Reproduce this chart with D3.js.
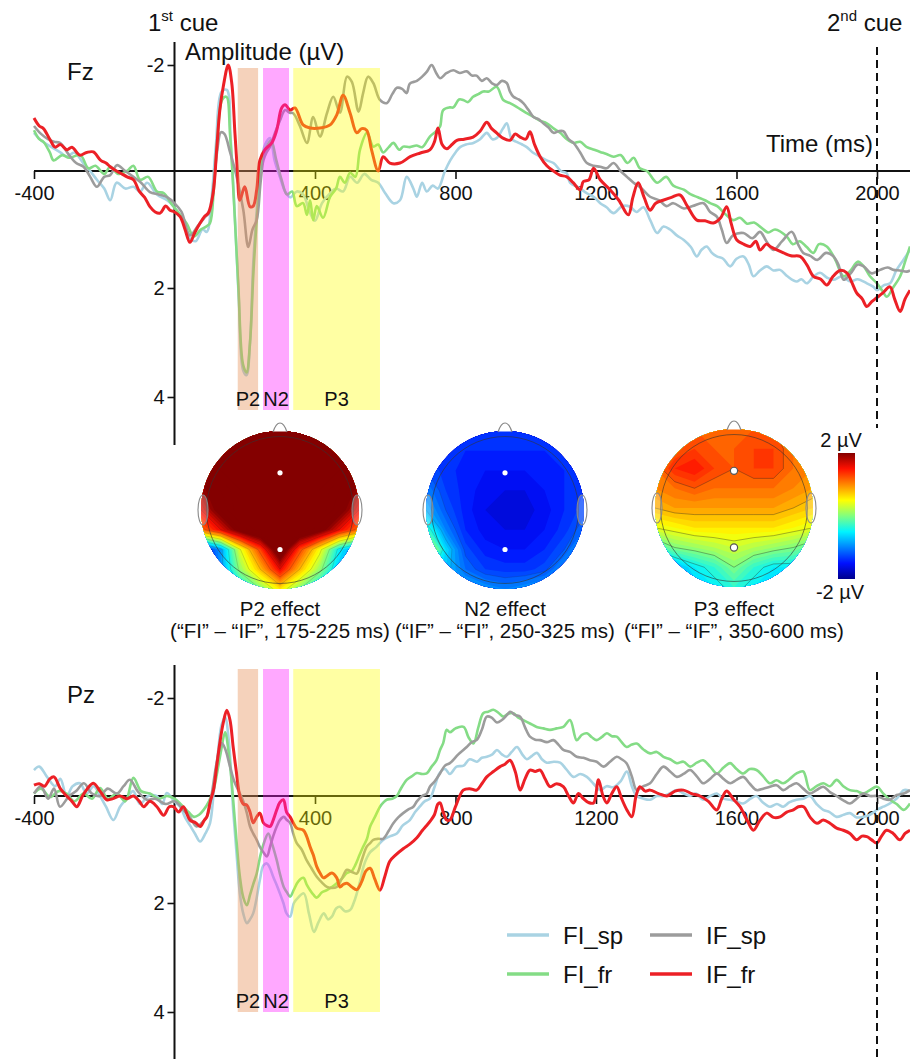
<!DOCTYPE html>
<html>
<head>
<meta charset="utf-8">
<script src="https://cdn.jsdelivr.net/npm/d3@7"></script>
<style>
  body { margin: 0; background: #fff; }
  svg { display: block; }
  text { font-family: 'Liberation Sans', Arial, Helvetica, sans-serif; fill: #111; }
</style>
</head>
<body>
<div id="chart"></div>
<script>
// ---- data: [time (ms), amplitude (µV)] ----
const fzFIsp = [[-400,-0.72],[-375,-0.55],[-350,-0.45],[-325,-0.35],[-306,-0.27],[-285,-0.35],[-260,-0.15],[-240,0],[-221,0.15],[-200,0.3],[-183,0.5],[-165,0.2],[-140,0.3],[-117,0.27],[-98,0.35],[-78,0.2],[-50,0.4],[-21,0.5],[-3,0.6],[20,0.8],[44,1.15],[60,1.2],[80,1],[92,1.04],[105,0.5],[118,-0.5],[134,-1.5],[149,-1.53],[160,-0.6],[172,0.8],[183,2.2],[195,3.5],[205,3.6],[215,3],[224,1.6],[235,0.6],[245,-0.1],[258,-0.5],[272,-0.62],[285,-0.2],[300,0.1],[315,0.35],[330,0.45],[348,0.35],[366,0.4],[385,0.7],[400,0.85],[420,0.55],[440,0.4],[460,0.3],[480,0.35],[500,0.1],[520,0.2],[540,0.05],[560,0.15],[580,0.2],[600,0.38],[623,0.55],[642,0.5],[661,0.1],[680,0.3],[690,0.44],[705,0.2],[718,0.35],[735,0.25],[750,0.3],[770,0],[785,-0.2],[800,-0.35],[813,-0.45],[830,-0.5],[851,-0.53],[870,-0.6],[889,-0.72],[905,-0.6],[917,-0.62],[935,-0.8],[946,-0.9],[960,-0.6],[974,-0.55],[990,-0.5],[1003,-0.45],[1020,-0.35],[1041,-0.27],[1060,-0.2],[1079,-0.15],[1100,0],[1117,0.04],[1126,0.2],[1150,0.28],[1174,0.38],[1195,0.45],[1212,0.55],[1230,0.62],[1250,0.72],[1275,0.6],[1297,0.61],[1315,0.7],[1335,0.62],[1355,0.85],[1374,1.06],[1392,0.95],[1411,1],[1430,1.1],[1450,1.18],[1470,1.3],[1487,1.46],[1500,1.35],[1515,1.29],[1530,1.4],[1544,1.46],[1562,1.5],[1582,1.63],[1600,1.5],[1620,1.46],[1635,1.6],[1648,1.8],[1667,1.7],[1686,1.63],[1705,1.7],[1724,1.69],[1745,1.8],[1771,1.89],[1785,1.85],[1800,1.92],[1820,1.8],[1838,1.74],[1857,1.82],[1876,1.86],[1900,1.8],[1924,1.89],[1945,1.85],[1971,1.92],[1990,1.98],[2000,2.04],[2020,1.95],[2037,1.92],[2055,1.7],[2075,1.52],[2094,1.35]];
const fzFIfr = [[-400,-0.77],[-385,-0.6],[-373,-0.55],[-355,-0.35],[-344,-0.2],[-320,-0.3],[-300,-0.25],[-268,-0.3],[-245,-0.05],[-225,-0.1],[-200,0.05],[-183,-0.08],[-160,0.05],[-135,0],[-117,-0.1],[-98,0.15],[-75,0.1],[-50,0.35],[-30,0.38],[-10,0.55],[16,0.75],[35,0.9],[55,1.12],[75,1],[90,0.95],[101,0.89],[112,0.3],[122,-0.6],[136,-1.35],[148,-1.4],[158,-0.7],[170,0.6],[182,2],[195,3.4],[205,3.55],[215,3],[225,1.7],[237,0.6],[248,-0.1],[262,-0.45],[275,-0.58],[290,-0.2],[305,0.15],[320,0.4],[335,0.35],[348,0.6],[366,0.55],[377,0.75],[386,0.5],[395,0.84],[405,0.6],[423,0.8],[443,0.44],[460,0.3],[471,0.1],[485,0.2],[500,0.03],[515,0.1],[528,-0.4],[548,-0.72],[566,-0.46],[580,-0.5],[594,-0.35],[610,-0.45],[623,-0.53],[640,-0.4],[651,-0.46],[670,-0.45],[689,-0.48],[705,-0.45],[727,-0.65],[745,-0.75],[756,-0.84],[765,-1.15],[784,-1.2],[794,-1.2],[810,-1.35],[822,-1.34],[836,-1.3],[850,-1.4],[865,-1.45],[879,-1.5],[895,-1.5],[917,-1.59],[936,-1.34],[955,-1.28],[974,-1.21],[1000,-1.1],[1022,-1.02],[1040,-0.95],[1060,-0.9],[1080,-0.8],[1098,-0.72],[1117,-0.6],[1136,-0.53],[1155,-0.55],[1174,-0.45],[1195,-0.4],[1212,-0.36],[1230,-0.32],[1250,-0.27],[1270,-0.3],[1290,-0.15],[1307,-0.25],[1325,-0.05],[1345,0],[1374,0.2],[1400,0.1],[1420,0.25],[1450,0.32],[1470,0.4],[1490,0.45],[1510,0.5],[1525,0.55],[1545,0.6],[1565,0.72],[1591,0.84],[1610,0.8],[1630,0.9],[1650,0.88],[1667,0.95],[1690,1.05],[1710,1],[1743,1.12],[1760,1.25],[1780,1.2],[1800,1.3],[1819,1.4],[1835,1.25],[1857,1.29],[1880,1.5],[1905,1.8],[1925,1.7],[1945,1.55],[1962,1.63],[1980,1.8],[2000,1.92],[2015,2.05],[2028,2.16],[2045,2],[2066,1.8],[2080,1.55],[2094,1.29]];
const fzIFsp = [[-400,-0.85],[-380,-0.7],[-360,-0.6],[-343,-0.55],[-326,-0.53],[-300,-0.3],[-280,-0.15],[-259,-0.08],[-240,0.1],[-221,0.27],[-200,0.1],[-183,0.07],[-164,-0.11],[-140,0],[-117,0.1],[-95,0.2],[-70,0.36],[-45,0.4],[-20,0.45],[0,0.55],[20,0.7],[44,1.1],[65,0.95],[85,0.8],[100,0.7],[112,0.2],[122,-0.4],[132,-0.73],[142,-0.7],[158,-0.36],[177,0.1],[196,0.67],[210,1.3],[222,1],[234,0.84],[245,0.2],[253,-0.2],[262,-0.35],[272,-0.46],[285,-0.7],[300,-0.95],[315,-1.15],[328,-1.1],[338,-1.09],[357,-0.85],[377,-0.53],[395,-1.02],[414,-0.65],[434,-1.09],[452,-1.4],[471,-1.1],[491,-1.78],[505,-1.68],[524,-1.12],[537,-1.47],[551,-1.78],[566,-1.66],[585,-1.34],[604,-1.28],[620,-1.45],[633,-1.57],[648,-1.55],[661,-1.47],[670,-1.65],[690,-1.7],[705,-1.78],[718,-1.87],[732,-2],[745,-1.85],[756,-1.75],[775,-1.85],[794,-1.9],[812,-1.85],[832,-1.88],[847,-1.8],[860,-1.8],[875,-1.7],[889,-1.75],[905,-1.65],[917,-1.62],[932,-1.7],[946,-1.66],[955,-1.5],[965,-1.4],[980,-1.35],[993,-1.28],[1008,-1.15],[1022,-1.02],[1036,-0.98],[1050,-0.9],[1065,-0.82],[1079,-0.72],[1093,-0.75],[1107,-0.75],[1122,-0.6],[1136,-0.53],[1155,-0.35],[1174,-0.15],[1193,-0.1],[1212,-0.08],[1230,-0.05],[1250,-0.15],[1270,0],[1288,0.1],[1307,0.2],[1330,0.3],[1354,0.44],[1380,0.5],[1400,0.6],[1420,0.55],[1450,0.64],[1475,0.6],[1506,0.55],[1525,0.7],[1544,0.78],[1558,1],[1572,1.23],[1590,1.1],[1620,1.06],[1645,1.15],[1667,1.04],[1685,1.2],[1705,1.35],[1730,1.2],[1757,1.04],[1775,1.25],[1790,1.4],[1810,1.45],[1830,1.52],[1855,1.4],[1876,1.46],[1890,1.6],[1905,1.86],[1925,1.75],[1945,1.6],[1962,1.63],[1985,1.75],[2009,1.69],[2030,1.65],[2047,1.69],[2065,1.7],[2085,1.72],[2094,1.7]];
const fzIFfr = [[-400,-1],[-385,-0.85],[-373,-0.8],[-355,-0.6],[-340,-0.45],[-325,-0.5],[-306,-0.4],[-292,-0.45],[-270,-0.3],[-250,-0.35],[-231,-0.36],[-210,-0.2],[-195,-0.15],[-183,-0.08],[-165,0],[-150,0.05],[-135,0.1],[-117,0.15],[-100,0.35],[-85,0.45],[-70,0.61],[-55,0.7],[-41,0.72],[-25,0.6],[-13,0.67],[0,0.7],[16,0.78],[30,1],[44,1.22],[58,1.05],[73,0.89],[85,0.78],[96,0.72],[110,0.38],[120,-0.4],[129,-1.15],[139,-1.6],[153,-2],[163,-1.66],[172,-0.72],[179,0],[186,0.5],[200,0.27],[215,0.61],[224,0.6],[234,0.32],[243,-0.2],[257,-0.4],[277,-0.53],[291,-0.77],[305,-1.19],[315,-1.25],[329,-1.15],[343,-1.19],[366,-0.87],[386,-0.81],[414,-0.81],[443,-0.87],[462,-1.06],[480,-1.43],[500,-1.09],[519,-0.72],[533,-0.8],[547,-0.77],[561,-0.4],[580,0],[594,-0.27],[613,-0.15],[642,-0.15],[671,-0.27],[700,-0.34],[727,-0.4],[740,-0.55],[750,-0.81],[762,-0.5],[775,-0.42],[790,-0.5],[804,-0.58],[825,-0.6],[850,-0.64],[870,-0.75],[889,-0.92],[903,-0.8],[917,-0.72],[935,-0.62],[955,-0.58],[970,-0.7],[984,-0.64],[1000,-0.6],[1012,-0.74],[1025,-0.5],[1041,-0.27],[1060,-0.1],[1079,0],[1097,0.07],[1117,0.1],[1135,0.2],[1155,0.32],[1164,0.18],[1180,0.15],[1193,-0.05],[1212,0.15],[1240,0.32],[1265,0.5],[1292,0.75],[1305,0.45],[1320,0.2],[1337,0.45],[1354,0.67],[1370,0.55],[1391,0.5],[1415,0.45],[1439,0.41],[1460,0.6],[1487,0.84],[1510,0.85],[1534,0.89],[1555,0.8],[1572,0.61],[1585,0.9],[1601,1.18],[1620,1.25],[1639,1.29],[1655,1.2],[1667,1.35],[1685,1.25],[1696,1.29],[1715,1.35],[1734,1.4],[1755,1.45],[1781,1.46],[1800,1.6],[1819,1.8],[1840,1.85],[1857,1.95],[1875,1.8],[1895,1.7],[1914,1.74],[1928,1.9],[1942,2.09],[1958,2.2],[1971,2.34],[1985,2.25],[1999,2.18],[2015,2.1],[2037,1.98],[2050,2.2],[2066,2.43],[2080,2.2],[2094,2.04]];

const pzFIsp = [[-400,-0.53],[-385,-0.6],[-363,-0.39],[-340,-0.2],[-325,-0.35],[-307,0],[-290,-0.2],[-269,-0.26],[-250,-0.05],[-230,-0.2],[-212,0],[-195,0.2],[-174,0.45],[-155,0.2],[-136,0.05],[-118,-0.1],[-98,0.15],[-75,0],[-51,0],[-35,0.15],[-22,-0.06],[0,0.1],[16,0.2],[30,0.4],[44,0.55],[58,0.7],[73,0.85],[88,0.7],[101,0.51],[112,-0.1],[124,-0.9],[134,-1.45],[144,-1.6],[155,-1.1],[167,0.26],[177,1.1],[186,1.82],[196,2.2],[206,2.37],[215,2.3],[224,2.19],[234,1.9],[243,1.57],[253,1.3],[263,1.26],[272,1.35],[281,1.51],[290,1.65],[300,1.82],[310,2],[319,2.19],[329,2.25],[340,2],[352,1.9],[368,1.82],[383,2.2],[397,2.53],[410,2.35],[425,2.19],[437,2.3],[448,2.25],[460,2.1],[471,2.07],[485,2.15],[500,2.13],[510,2],[519,1.82],[530,1.55],[538,1.32],[548,1.15],[557,1.05],[575,0.95],[594,0.82],[615,0.75],[633,0.7],[650,0.55],[670,0.45],[685,0.3],[698,0.2],[712,0.1],[727,0.05],[741,-0.2],[755,-0.47],[770,-0.55],[784,-0.45],[803,-0.6],[823,-0.62],[840,-0.75],[861,-0.7],[875,-0.78],[889,-0.8],[905,-0.85],[918,-0.94],[932,-0.85],[946,-0.8],[960,-0.9],[975,-1],[990,-0.85],[1003,-0.75],[1018,-0.82],[1032,-0.88],[1046,-0.75],[1060,-0.68],[1080,-0.7],[1098,-0.68],[1115,-0.55],[1136,-0.39],[1155,-0.45],[1174,-0.39],[1193,-0.25],[1212,-0.12],[1230,-0.2],[1250,-0.18],[1270,-0.3],[1288,-0.5],[1302,-0.2],[1316,0],[1335,0.05],[1354,0.07],[1373,0],[1392,0],[1410,-0.05],[1430,-0.12],[1450,-0.05],[1468,0],[1485,-0.05],[1505,0.07],[1525,0],[1544,-0.05],[1562,0.05],[1582,0.07],[1600,0.1],[1619,0.14],[1640,0.05],[1657,0],[1675,0.12],[1695,0.2],[1715,0.15],[1733,0.2],[1750,0.12],[1771,0.07],[1790,0.05],[1809,0],[1828,0.15],[1847,0.26],[1865,0.3],[1885,0.39],[1905,0.35],[1923,0.32],[1942,0.4],[1961,0.39],[1980,0.35],[2000,0.26],[2018,0.2],[2037,0.14],[2056,0.05],[2076,-0.12],[2094,-0.1]];
const pzFIfr = [[-400,-0.05],[-380,-0.15],[-354,0.02],[-330,-0.1],[-307,-0.05],[-285,0.1],[-259,-0.05],[-235,0.05],[-212,-0.16],[-190,0.05],[-164,-0.05],[-140,0.1],[-117,-0.37],[-95,-0.1],[-70,-0.05],[-45,0.05],[-21,0],[0,0.05],[25,0.2],[40,0.3],[55,0.39],[70,0.35],[83,0.26],[98,0.1],[111,-0.12],[122,-0.5],[132,-0.9],[144,-1.3],[154,-0.9],[165,-0.1],[176,0.8],[186,1.5],[196,1.9],[206,2.04],[215,1.85],[224,1.65],[234,1.45],[245,1.1],[256,0.85],[267,0.7],[278,0.9],[291,1.2],[300,1.45],[311,1.7],[320,1.8],[329,1.88],[340,1.75],[352,1.6],[367,1.53],[376,1.65],[386,1.76],[396,1.85],[405,1.9],[420,1.8],[434,1.76],[448,1.7],[462,1.63],[476,1.55],[491,1.44],[505,1.4],[514,1.3],[527,1.1],[537,0.95],[548,0.8],[557,0.57],[570,0.4],[585,0.2],[595,0.12],[604,0.07],[620,0.05],[633,0],[642,-0.12],[661,-0.33],[675,-0.4],[690,-0.47],[705,-0.45],[718,-0.46],[732,-0.6],[746,-0.73],[756,-0.94],[765,-1.08],[775,-1.35],[784,-1.3],[800,-1.38],[823,-1.41],[837,-1.2],[851,-1.07],[865,-1.4],[879,-1.69],[893,-1.72],[908,-1.76],[922,-1.7],[936,-1.62],[950,-1.68],[965,-1.69],[979,-1.6],[993,-1.55],[1012,-1.48],[1031,-1.41],[1050,-1.38],[1069,-1.35],[1088,-1.38],[1107,-1.41],[1126,-1.55],[1145,-1.14],[1160,-1.25],[1174,-1.28],[1188,-1.2],[1202,-1.14],[1216,-1.2],[1231,-1.28],[1245,-1.22],[1259,-1.21],[1273,-1.1],[1287,-1],[1302,-1.05],[1316,-1.07],[1335,-0.95],[1354,-0.87],[1373,-0.9],[1392,-0.8],[1411,-0.75],[1430,-0.67],[1449,-0.7],[1468,-0.6],[1487,-0.68],[1505,-0.73],[1525,-0.6],[1544,-0.46],[1563,-0.58],[1582,-0.67],[1600,-0.55],[1619,-0.46],[1638,-0.55],[1657,-0.53],[1676,-0.4],[1695,-0.26],[1714,-0.32],[1733,-0.26],[1752,-0.35],[1771,-0.46],[1790,-0.5],[1809,-0.12],[1828,-0.2],[1847,-0.26],[1866,-0.2],[1885,-0.33],[1904,-0.2],[1923,-0.12],[1942,-0.1],[1961,-0.05],[1980,-0.12],[2000,-0.19],[2018,-0.05],[2037,0.07],[2056,0.15],[2076,0.26],[2094,0.14]];
const pzIFsp = [[-400,-0.05],[-380,-0.2],[-360,0.05],[-343,-0.15],[-326,0.2],[-300,0],[-280,-0.1],[-258,-0.26],[-235,-0.05],[-212,0],[-190,-0.15],[-164,-0.05],[-145,-0.2],[-127,-0.33],[-105,-0.1],[-79,0.07],[-55,0.05],[-25,0.15],[0,0.1],[25,0.26],[44,0.4],[63,0.57],[78,0.5],[92,0.39],[105,0],[118,-0.6],[128,-0.95],[135,-1.08],[145,-0.95],[158,-0.6],[170,-0.3],[186,-0.05],[196,0.1],[206,0.32],[215,0.57],[224,0.7],[234,0.82],[243,0.95],[253,1.05],[263,1.13],[272,0.95],[281,0.75],[291,0.57],[300,0.45],[311,0.39],[320,0.45],[329,0.5],[338,0.7],[348,0.88],[362,1],[376,1.2],[390,1.35],[405,1.51],[420,1.62],[434,1.7],[448,1.72],[462,1.7],[476,1.55],[491,1.38],[505,1.42],[519,1.45],[533,1.2],[547,0.95],[557,0.88],[566,0.82],[580,0.8],[594,0.8],[610,0.65],[623,0.51],[637,0.4],[651,0.32],[666,0.25],[680,0.2],[690,0.1],[705,0],[718,-0.05],[727,-0.19],[741,-0.3],[756,-0.46],[770,-0.62],[784,-0.67],[808,-0.85],[832,-1],[846,-1.1],[860,-1.14],[875,-1.35],[889,-1.62],[903,-1.6],[918,-1.5],[932,-1.55],[946,-1.65],[956,-1.72],[970,-1.65],[984,-1.62],[998,-1.4],[1012,-1.21],[1027,-1.15],[1041,-1.14],[1060,-1.1],[1079,-1.14],[1093,-1.05],[1107,-0.94],[1126,-0.9],[1145,-0.8],[1164,-0.78],[1183,-0.73],[1202,-0.7],[1221,-0.6],[1240,-0.7],[1259,-0.8],[1273,-0.75],[1287,-0.67],[1302,-0.4],[1316,-0.12],[1335,-0.2],[1354,-0.26],[1373,-0.45],[1392,-0.6],[1411,-0.5],[1430,-0.39],[1449,-0.45],[1468,-0.53],[1487,-0.4],[1505,-0.26],[1525,-0.35],[1544,-0.46],[1563,-0.35],[1582,-0.26],[1600,-0.33],[1619,-0.39],[1638,-0.25],[1657,-0.12],[1676,-0.15],[1695,-0.19],[1714,-0.22],[1733,-0.12],[1752,-0.2],[1771,-0.26],[1790,-0.15],[1809,-0.05],[1828,-0.12],[1847,-0.19],[1866,-0.08],[1885,0],[1904,0.08],[1923,0.14],[1942,0.05],[1961,-0.05],[1980,0],[2000,0],[2018,0.05],[2037,0.07],[2056,-0.02],[2076,-0.05],[2094,-0.12]];
const pzIFfr = [[-400,-0.22],[-385,-0.25],[-370,-0.2],[-355,-0.35],[-343,-0.39],[-325,-0.15],[-307,0],[-292,0.1],[-278,0.2],[-262,0],[-248,-0.15],[-231,-0.26],[-212,-0.1],[-193,0.07],[-175,0.05],[-155,0],[-135,0.05],[-117,0],[-100,0.1],[-88,0.2],[-70,0.1],[-50,0.2],[-31,0.36],[-15,0.2],[-3,0.2],[12,0.3],[25,0.2],[44,0.45],[60,0.5],[73,0.57],[85,0.45],[92,0.39],[102,0.1],[111,-0.12],[120,-0.6],[129,-1.08],[139,-1.5],[149,-1.75],[158,-1.55],[167,-1],[176,-0.5],[186,0],[196,0.15],[206,0.17],[215,0.3],[224,0.5],[234,0.39],[243,0.32],[253,0.5],[262,0.55],[272,0.57],[281,0.45],[291,0.26],[300,0.12],[310,0.07],[319,0.3],[329,0.39],[338,0.5],[348,0.6],[367,0.64],[376,0.75],[386,0.95],[395,1.1],[405,1.32],[415,1.45],[424,1.53],[433,1.5],[448,1.44],[462,1.53],[471,1.7],[481,1.65],[491,1.63],[505,1.7],[519,1.75],[533,1.6],[545,1.4],[557,1.35],[570,1.55],[585,1.76],[599,1.5],[613,1.22],[630,1.1],[652,0.98],[670,0.9],[690,0.78],[705,0.65],[718,0.55],[728,0.47],[740,0.35],[750,0.15],[756,0.13],[765,0.3],[775,0.45],[784,0.45],[800,0.2],[822,-0.12],[840,-0.15],[860,-0.12],[875,-0.25],[889,-0.39],[908,-0.5],[927,-0.6],[941,-0.65],[955,-0.73],[970,-0.5],[984,-0.12],[998,-0.35],[1012,-0.53],[1027,-0.5],[1041,-0.53],[1055,-0.35],[1069,-0.19],[1088,-0.25],[1107,-0.19],[1122,0],[1136,0.13],[1150,-0.05],[1164,0.05],[1178,0.12],[1193,0.13],[1207,-0.33],[1220,0],[1231,0.13],[1245,-0.05],[1259,-0.19],[1273,0.05],[1288,0.26],[1302,0.39],[1314,0],[1325,-0.19],[1340,-0.1],[1354,-0.12],[1378,-0.05],[1402,0],[1425,-0.1],[1449,-0.12],[1472,-0.05],[1496,0],[1520,0.1],[1544,0.26],[1558,0.05],[1572,-0.1],[1590,0.05],[1610,0.2],[1630,0.45],[1648,0.64],[1667,0.45],[1686,0.32],[1705,0.4],[1724,0.39],[1743,0.3],[1762,0.26],[1776,0.2],[1791,0.2],[1810,0.4],[1829,0.51],[1847,0.45],[1866,0.51],[1885,0.6],[1904,0.64],[1923,0.7],[1942,0.82],[1957,0.75],[1971,0.76],[1985,0.82],[1999,0.88],[2013,0.75],[2027,0.64],[2046,0.7],[2065,0.82],[2080,0.7],[2094,0.64]];

const xTicks = [-400, 400, 800, 1200, 1600, 2000];
const yTicks = [-2, 2, 4];
const windowNames = ["P2", "N2", "P3"];
const windowStart = [180, 252, 338];
const windowEnd = [238, 326, 585];
const cueTimes = [2000];

// topographies (µV), 9x9 grids, rows front -> back, columns left -> right
const p2Grid = [
  [2.5,2.5,2.5,2.5,2.5,2.5,2.5,2.5,2.5],
  [2.5,2.5,2.5,2.5,2.5,2.5,2.5,2.5,2.5],
  [2.2,2.5,2.5,2.5,2.5,2.5,2.5,2.5,2.2],
  [1.9,2.3,2.5,2.5,2.5,2.5,2.5,2.3,1.9],
  [1.6,2.2,2.5,2.5,2.5,2.5,2.5,2.2,1.6],
  [1.1,1.6,2.2,2.5,2.5,2.5,2.2,1.6,1.1],
  [-1.6,-0.9,0.4,1.3,2.4,1.3,0.5,-0.5,-1.0],
  [-2.0,-0.9,0.1,0.8,1.6,0.8,0.1,-0.7,-1.5],
  [-1.5,-1.0,-0.5,0.0,0.6,0.0,-0.5,-1.0,-1.5]
];
const n2Grid = [
  [-1.3,-1.3,-1.3,-1.3,-1.3,-1.3,-1.3,-1.3,-1.3],
  [-1.3,-1.35,-1.4,-1.4,-1.4,-1.4,-1.4,-1.35,-1.3],
  [-1.2,-1.35,-1.45,-1.5,-1.5,-1.5,-1.45,-1.4,-1.3],
  [-1.0,-1.3,-1.45,-1.55,-1.6,-1.6,-1.5,-1.4,-1.3],
  [-0.8,-1.2,-1.45,-1.6,-1.65,-1.65,-1.55,-1.4,-1.25],
  [-0.2,-1.0,-1.4,-1.55,-1.6,-1.6,-1.5,-1.35,-1.1],
  [0.7,-0.6,-1.25,-1.45,-1.5,-1.5,-1.4,-1.2,-0.8],
  [-0.2,-0.7,-1.1,-1.3,-1.35,-1.35,-1.25,-0.9,-0.5],
  [-0.5,-0.7,-0.8,-0.9,-1.0,-0.9,-0.8,-0.6,-0.4]
];
const p3Grid = [
  [1.1,1.1,1.2,1.2,1.2,1.2,1.2,1.1,1.0],
  [1.1,1.2,1.3,1.2,1.2,1.3,1.3,1.1,1.0],
  [1.1,1.4,1.5,1.3,1.2,1.3,1.3,1.1,1.0],
  [1.0,1.1,1.2,1.1,1.1,1.1,1.1,1.0,0.9],
  [0.8,0.9,0.9,0.9,0.9,0.9,0.9,0.8,0.7],
  [0.4,0.5,0.6,0.6,0.6,0.6,0.6,0.5,0.4],
  [-0.3,0.0,0.1,0.2,0.3,0.2,0.1,0.0,-0.2],
  [-1.3,-0.8,-0.5,-0.3,0.0,-0.3,-0.5,-0.5,-0.6],
  [-1.3,-1.0,-0.7,-0.5,-0.3,-0.5,-0.6,-0.6,-0.6]
];
const topoNames = ["P2 effect", "N2 effect", "P3 effect"];
const topoNotes = ["(\u201cFI\u201d \u2013 \u201cIF\u201d, 175-225 ms)", "(\u201cIF\u201d \u2013 \u201cFI\u201d, 250-325 ms)", "(\u201cFI\u201d \u2013 \u201cIF\u201d, 350-600 ms)"];
const legendNames = ["FI_sp", "IF_sp", "FI_fr", "IF_fr"];

// ---- styling ----
const conds = [
  {name: "FI_sp", color: "#a9d3e3", width: 2.6},
  {name: "FI_fr", color: "#84dc86", width: 2.6},
  {name: "IF_sp", color: "#9c9c9c", width: 2.6},
  {name: "IF_fr", color: "#ec2026", width: 3}
];
const condColor = Object.fromEntries(conds.map(c => [c.name, c.color]));
const shadeColor = ["#e8935e", "#ff1aff", "#ffff00"];
const shadeOpacity = [0.42, 0.38, 0.36];

const svg = d3.select("#chart").append("svg")
    .attr("width", 910)
    .attr("height", 1059);

const x = d3.scaleLinear().domain([-400, 2000]).range([34, 877]);
const line = y => d3.line()
    .x(d => x(d[0]))
    .y(d => y(d[1]))
    .curve(d3.curveCatmullRom.alpha(0.5));
const plain = d => String(d);

function panel(o) {
    const g = svg.append("g");
    const y = o.y;
    const y0 = y(0);

    // x axis
    const xa = g.append("g")
        .attr("transform", `translate(0,${y0})`)
        .call(d3.axisBottom(x).tickValues(xTicks).tickFormat(plain).tickSize(8).tickPadding(7).tickSizeOuter(0));
    xa.select(".domain").remove();
    xa.selectAll("line").attr("stroke", "#111").attr("stroke-width", 1.6);
    xa.selectAll("text").style("font-size", "20px").attr("fill", "#111");
    g.append("line").attr("x1", x(-400)).attr("x2", 910).attr("y1", y0).attr("y2", y0)
        .attr("stroke", "#111").attr("stroke-width", 1.8);

    // y axis
    const ya = g.append("g")
        .attr("transform", `translate(${x(0)},0)`)
        .call(d3.axisLeft(y).tickValues(yTicks).tickFormat(plain).tickSize(7).tickPadding(3).tickSizeOuter(0));
    ya.select(".domain").remove();
    ya.selectAll("line").attr("stroke", "#111").attr("stroke-width", 1.6);
    ya.selectAll("text").style("font-size", "20px").attr("fill", "#111");
    g.append("line").attr("x1", x(0)).attr("x2", x(0)).attr("y1", o.axisTop).attr("y2", o.axisBottom)
        .attr("stroke", "#111").attr("stroke-width", 2);

    // waveforms
    conds.forEach(c => {
        g.append("path")
            .datum(o.data[c.name])
            .attr("fill", "none")
            .attr("stroke", c.color)
            .attr("stroke-width", c.width)
            .attr("stroke-linejoin", "round")
            .attr("d", line(y));
    });

    // analysis windows
    windowNames.forEach((w, i) => {
        g.append("rect")
            .attr("x", x(windowStart[i]))
            .attr("width", x(windowEnd[i]) - x(windowStart[i]))
            .attr("y", o.shadeTop)
            .attr("height", o.shadeBottom - o.shadeTop)
            .attr("fill", shadeColor[i])
            .attr("fill-opacity", shadeOpacity[i]);
        g.append("text")
            .attr("x", (x(windowStart[i]) + x(windowEnd[i])) / 2)
            .attr("y", o.shadeBottom - 4)
            .attr("text-anchor", "middle")
            .style("font-size", "20px")
            .text(w);
    });

    // second cue
    cueTimes.forEach(t => {
        g.append("line")
            .attr("x1", x(t)).attr("x2", x(t))
            .attr("y1", o.dashTop).attr("y2", o.dashBottom)
            .attr("stroke", "#111").attr("stroke-width", 2)
            .attr("stroke-dasharray", "8,5");
    });

    g.append("text").attr("x", 67).attr("y", o.labelY)
        .style("font-size", "24px").text(o.label);
}

const yFz = d3.scaleLinear().domain([-2, 0, 2, 4]).range([65, 171, 288, 397]);
const yPz = d3.scaleLinear().domain([-2, 0, 2, 4]).range([698, 796, 903, 1012]);

panel({
    y: yFz, label: "Fz", labelY: 80,
    data: {FI_sp: fzFIsp, FI_fr: fzFIfr, IF_sp: fzIFsp, IF_fr: fzIFfr},
    axisTop: 42, axisBottom: 445, shadeTop: 68, shadeBottom: 410,
    dashTop: 47, dashBottom: 428
});
panel({
    y: yPz, label: "Pz", labelY: 703,
    data: {FI_sp: pzFIsp, FI_fr: pzFIfr, IF_sp: pzIFsp, IF_fr: pzIFfr},
    axisTop: 665, axisBottom: 1059, shadeTop: 669, shadeBottom: 1012,
    dashTop: 672, dashBottom: 1059
});

// titles
function cue(xp, num, sup) {
    const t = svg.append("text").attr("x", xp).attr("y", 31).style("font-size", "24px");
    t.append("tspan").text(num);
    t.append("tspan").attr("dy", -10).style("font-size", "15px").text(sup);
    t.append("tspan").attr("dy", 10).text(" cue");
}
cue(148, "1", "st");
cue(827, "2", "nd");
svg.append("text").attr("x", 185).attr("y", 60).style("font-size", "24px").text("Amplitude (\u00b5V)");
svg.append("text").attr("x", 873).attr("y", 152).attr("text-anchor", "end").style("font-size", "24px").text("Time (ms)");

// ---- topographic maps ----
const jet = d3.scaleLinear()
    .domain([-2, -1.5, -0.5, 0, 0.5, 1.5, 2])
    .range(["#00008c", "#0010ff", "#00f4ff", "#80ff80", "#ffff00", "#ff1000", "#840000"])
    .clamp(true);

const R = 79;
const topoX = [280, 505, 734];
const topoY = [510, 510, 508];
const grids = [p2Grid, n2Grid, p3Grid];
const defs = svg.append("defs");

grids.forEach((grid, k) => {
    const n = grid.length;
    const cx = topoX[k], cy = topoY[k];
    const gx = d3.scaleLinear().domain([0.5, n - 0.5]).range([cx - R, cx + R]);
    const gy = d3.scaleLinear().domain([0.5, n - 0.5]).range([cy - R, cy + R]);
    const proj = d3.geoTransform({point(px, py) { this.stream.point(gx(px), gy(py)); }});
    const path = d3.geoPath(proj);
    const values = grid.flat();

    defs.append("clipPath").attr("id", "head" + k)
        .append("circle").attr("cx", cx).attr("cy", cy).attr("r", R);

    const g = svg.append("g");
    const m = g.append("g").attr("clip-path", `url(#head${k})`);
    const bands = d3.contours().size([n, n]).thresholds(d3.range(-2.2, 2.65, 0.1))(values);
    m.selectAll("path.band").data(bands).join("path")
        .attr("class", "band")
        .attr("d", path)
        .attr("fill", d => jet(d.value + 0.05));
    const iso = d3.contours().size([n, n]).thresholds([-1.2, -0.8, -0.4, 0, 0.4, 0.8, 1.2, 1.6])(values);
    m.selectAll("path.iso").data(iso).join("path")
        .attr("class", "iso")
        .attr("d", path)
        .attr("fill", "none")
        .attr("stroke", "#222")
        .attr("stroke-opacity", k === 2 ? 0.45 : 0.2)
        .attr("stroke-width", 0.8);

    // head, nose, ears
    g.append("circle").attr("cx", cx).attr("cy", cy).attr("r", R * 0.93)
        .attr("fill", "none").attr("stroke", "#333").attr("stroke-opacity", 0.6).attr("stroke-width", 1);
    g.append("path")
        .attr("d", `M${cx - 7},${cy - R + 1} Q${cx - 4},${cy - R - 8} ${cx},${cy - R - 8} Q${cx + 4},${cy - R - 8} ${cx + 7},${cy - R + 1}`)
        .attr("fill", "#fff").attr("fill-opacity", 0.5).attr("stroke", "#888").attr("stroke-width", 1.2);
    [-1, 1].forEach(s => {
        g.append("ellipse").attr("cx", cx + s * (R - 2)).attr("cy", cy).attr("rx", 5).attr("ry", 15)
            .attr("fill", "#fff").attr("fill-opacity", 0.25).attr("stroke", "#888").attr("stroke-width", 1.1);
    });
    // electrodes Fz / Pz
    [-0.47, 0.5].forEach(e => {
        g.append("circle").attr("cx", cx).attr("cy", cy + e * R)
            .attr("r", k === 2 ? 3.6 : 2.6)
            .attr("fill", "#fff")
            .attr("stroke", k === 2 ? "#555" : "none").attr("stroke-width", 1.2);
    });

    svg.append("text").attr("x", cx).attr("y", 616).attr("text-anchor", "middle")
        .style("font-size", "20.5px").text(topoNames[k]);
    svg.append("text").attr("x", cx).attr("y", 638).attr("text-anchor", "middle")
        .style("font-size", "20.5px").text(topoNotes[k]);
});

// colour bar
const cb = d3.scaleLinear().domain([2, -2]).range([453, 579]);
const grad = defs.append("linearGradient").attr("id", "jetbar")
    .attr("x1", 0).attr("y1", 0).attr("x2", 0).attr("y2", 1);
jet.domain().slice().reverse().forEach(v => {
    grad.append("stop").attr("offset", (cb(v) - cb(2)) / (cb(-2) - cb(2))).attr("stop-color", jet(v));
});
svg.append("rect").attr("x", 838).attr("y", cb(2)).attr("width", 17).attr("height", cb(-2) - cb(2))
    .attr("fill", "url(#jetbar)");
svg.append("text").attr("x", 841).attr("y", 447).attr("text-anchor", "middle").style("font-size", "20px").text("2 \u00b5V");
svg.append("text").attr("x", 840).attr("y", 599).attr("text-anchor", "middle").style("font-size", "20px").text("-2 \u00b5V");

// legend
const legX = [507, 650];
const legY = [935, 974];
legendNames.forEach((nm, i) => {
    const lx = legX[i % 2], ly = legY[Math.floor(i / 2)];
    svg.append("line").attr("x1", lx).attr("x2", lx + 42).attr("y1", ly).attr("y2", ly)
        .attr("stroke", condColor[nm]).attr("stroke-width", 3.5);
    svg.append("text").attr("x", lx + 56).attr("y", ly + 9).style("font-size", "24px").text(nm);
});
</script>
</body>
</html>
